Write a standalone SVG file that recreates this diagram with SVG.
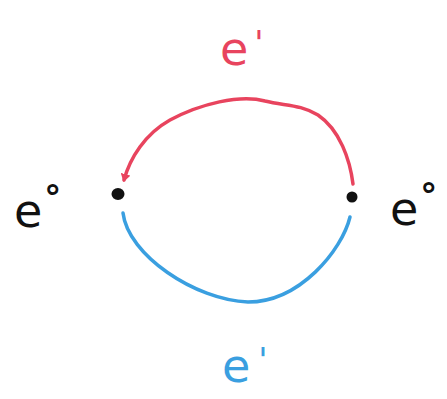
<svg xmlns="http://www.w3.org/2000/svg" width="447" height="399" viewBox="0 0 447 399">
<style>
.lbl{font-family:"DejaVu Sans",sans-serif;font-size:46px}
.sup{font-size:34px}
.deg{font-size:34px;font-weight:bold}
.red{fill:#e8445e}
.blue{fill:#3a9fe0}
.blk{fill:#111}
.edge{fill:none;stroke-width:3.5;stroke-linecap:round}
</style>
<defs>
<marker id="ahR" markerWidth="10" markerHeight="10" refX="6" refY="5" orient="auto" markerUnits="userSpaceOnUse">
<path d="M0,0 L8,5 L0,10 Z" fill="#e8445e"/>
</marker>
</defs>
<rect width="447" height="399" fill="#fff"/>
<g id="connectors">
<path class="edge" stroke="#e8445e" d="M353,184 C350,160 340,130 318,115 C300,104 285,106 265,101 C240,94 200,104 170,120 C145,134 130,158 124,180" marker-end="url(#ahR)"/>
<path class="edge" stroke="#3a9fe0" d="M123,213 C128,255 195,300 248,302 C300,302 342,250 350,217"/>
</g>
<g id="node-left">
<ellipse cx="118" cy="194" rx="6.5" ry="6" class="blk"/>
<text class="lbl blk" x="14" y="227">e<tspan class="deg" dx="2" dy="-18">°</tspan></text>
</g>
<g id="node-right">
<circle cx="352" cy="197" r="5.5" class="blk"/>
<text class="lbl blk" x="390" y="225">e<tspan class="deg" dx="2" dy="-18">°</tspan></text>
</g>
<g id="label-top">
<text class="lbl red" x="220" y="65">e<tspan class="sup" dx="6" dy="-10">'</tspan></text>
</g>
<g id="label-bottom">
<text class="lbl blue" x="222" y="382">e<tspan class="sup" dx="8" dy="-10">'</tspan></text>
</g>
</svg>
